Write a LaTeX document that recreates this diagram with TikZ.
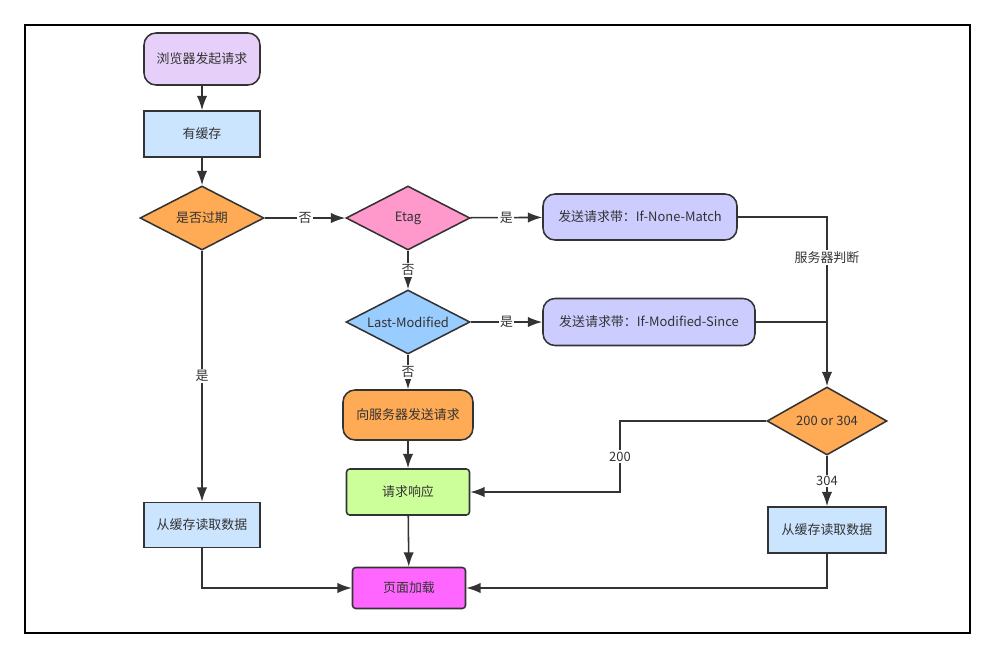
\documentclass[tikz,border=0pt]{standalone}
\usepackage{fontspec}
\setmainfont{Noto Sans CJK SC}
\usetikzlibrary{arrows.meta,shapes.geometric,calc}
\definecolor{LineClr}{HTML}{333333}
\definecolor{StartClr}{HTML}{E6D0FA}
\definecolor{CacheClr}{HTML}{CCE5FF}
\definecolor{AskClr}{HTML}{FFAA55}
\definecolor{EtagClr}{HTML}{FF99CC}
\definecolor{ModClr}{HTML}{99CCFF}
\definecolor{SendClr}{HTML}{CCCCFF}
\definecolor{RespClr}{HTML}{CCFF99}
\definecolor{LoadClr}{HTML}{FF66FF}

\begin{document}
\begin{tikzpicture}[x=0.25mm,y=-0.25mm,
  every node/.style={font=\fontsize{9.2}{11}\selectfont,text=LineClr},
  box/.style={rectangle,draw=LineClr,line width=1.1pt,inner sep=2pt},
  rbox/.style={box,rounded corners=3mm},
  dia/.style={diamond,aspect=2,draw=LineClr,line width=1.1pt,inner sep=0pt,minimum width=31mm,minimum height=16mm},
  arr/.style={draw=LineClr,line width=1.1pt,-{Latex[length=3.6mm,width=2.6mm]}},
  ln/.style={draw=LineClr,line width=1.1pt},
  lbl/.style={fill=white,inner sep=1pt}]
\useasboundingbox (0,0) rectangle (995,657);
\draw[line width=1pt] (25,25) rectangle (970,633);

\node[rbox,fill=StartClr,minimum width=29mm,minimum height=13mm] (start) at (202,59) {浏览器发起请求};
\node[box,fill=CacheClr,minimum width=29mm,minimum height=11.5mm] (cache) at (202,134) {有缓存};
\node[dia,fill=AskClr] (expired) at (202,218) {是否过期};
\node[dia,fill=EtagClr] (etag) at (408,218) {Etag};
\node[rbox,fill=SendClr,minimum width=48.5mm,minimum height=11.5mm] (nonematch) at (640,217) {发送请求带：If-None-Match};
\node[dia,fill=ModClr] (lastmod) at (408,322) {Last-Modified};
\node[rbox,fill=SendClr,minimum width=53mm,minimum height=11.75mm] (modsince) at (649,322) {发送请求带：If-Modified-Since};
\node[rbox,fill=AskClr,minimum width=32.5mm,minimum height=12.5mm] (request) at (408,415) {向服务器发送请求};
\node[box,rounded corners=0.8mm,fill=RespClr,minimum width=30.75mm,minimum height=11.5mm] (response) at (408,492) {请求响应};
\node[dia,fill=AskClr,minimum width=30mm,minimum height=17mm] (code) at (827,421) {200 or 304};
\node[box,fill=CacheClr,minimum width=29mm,minimum height=11.25mm] (readL) at (202,525) {从缓存读取数据};
\node[box,fill=CacheClr,minimum width=29.5mm,minimum height=11.5mm] (readR) at (827,530) {从缓存读取数据};
\node[box,rounded corners=0.8mm,fill=LoadClr,minimum width=28.25mm,minimum height=10.25mm] (load) at (409,588) {页面加载};

\coordinate (turn) at (620,421);

\draw[arr] (start) -- (cache);
\draw[arr] (cache) -- (expired);
\draw[arr] (expired) -- node[lbl]{否} (etag);
\draw[arr] (expired) -- node[lbl]{是} (readL);
\draw[arr] (etag) -- node[lbl]{是} (nonematch);
\draw[arr] (etag) -- node[lbl]{否} (lastmod);
\draw[arr] (lastmod) -- node[lbl]{是} (modsince);
\draw[arr] (lastmod) -- node[lbl]{否} (request);
\draw[arr] (nonematch.east) -| node[lbl,pos=0.62]{服务器判断} (code.north);
\draw[ln] (modsince.east) -- (modsince.east -| code.north);
\draw[arr] (request) -- (response);
\draw[arr] (code.west) -- (turn) |- node[lbl,pos=0.25]{200} (response.east);
\draw[arr] (code) -- node[lbl]{304} (readR);
\draw[arr] (response) -- (load);
\draw[arr] (readL.south) |- (load.west);
\draw[arr] (readR.south) |- (load.east);
% \draw[ln,dashed] (expired.south) -- (readL.north);

\end{tikzpicture}
\end{document}
